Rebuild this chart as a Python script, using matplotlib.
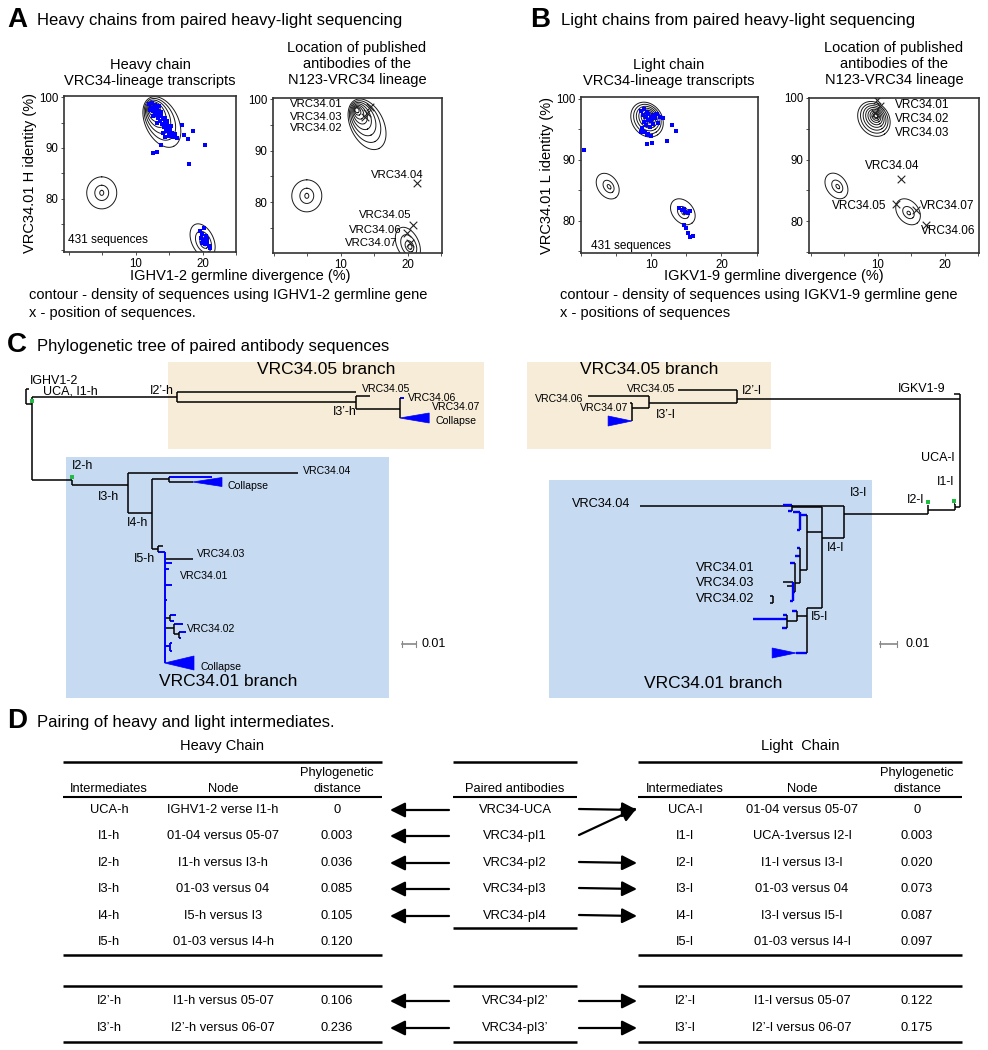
import numpy as np
import matplotlib.pyplot as plt
from matplotlib.patches import Rectangle, Polygon

plt.rcParams['font.family'] = ['Liberation Sans', 'DejaVu Sans']

W, H = 988, 1050

# ---------------- data: panels A / B ----------------
# density contour rings: inner (cx, cy, major px, minor px), outer (cx, cy, major px, minor px), tilt, rings
a_contours = [(12.4, 97.8, 5, 4, 13.9, 95.1, 54, 33, -64, 8),
              (4.9, 81.2, 5, 4, 4.9, 81.2, 32, 30, 90, 3),
              (20.3, 71.3, 5, 4, 20.0, 71.8, 36, 22, -65, 4)]
b_contours = [(9.7, 97.1, 4, 3, 9.4, 96.6, 37, 30, -55, 9),
              (4.0, 85.6, 5, 3, 3.8, 85.7, 28, 20, -55, 3),
              (14.6, 81.3, 4, 3, 14.5, 81.5, 29, 21, -50, 3)]

a_seq_x = [12.0, 12.4, 12.8, 12.3, 12.7, 13.1, 12.5, 12.9, 13.3, 13.0, 13.5, 12.6, 13.8, 13.3,
           14.0, 13.6, 14.3, 13.9, 14.6, 14.2, 14.8, 14.5, 15.1, 14.9, 15.4, 15.0, 15.6, 14.1,
           13.4, 12.1, 13.8, 14.4, 15.2, 14.7, 13.2, 15.8, 16.1, 14.4,
           16.9, 18.5, 17.2, 17.8, 20.3, 13.7, 13.1, 12.5, 17.9,
           19.6, 20.2, 19.9, 20.5, 19.7, 20.1, 20.6, 20.3, 20.9, 19.9, 20.7, 21.1]
a_seq_y = [98.6, 98.9, 98.4, 97.9, 97.6, 97.9, 97.2, 96.9, 97.3, 96.4, 96.7, 96.2, 96.2, 95.8,
           95.6, 95.2, 95.0, 94.7, 94.6, 94.1, 93.9, 93.4, 93.6, 92.9, 93.0, 92.4, 92.2, 93.0,
           98.2, 97.4, 97.0, 95.9, 94.4, 95.3, 95.0, 92.7, 91.9, 92.2,
           94.5, 93.3, 92.5, 91.8, 90.6, 90.6, 89.2, 89.0, 86.9,
           73.8, 74.3, 73.2, 72.8, 72.4, 71.9, 71.5, 71.1, 70.8, 71.4, 72.2, 70.4]

b_seq_x = [8.6, 9.0, 9.4, 8.8, 9.2, 9.6, 9.9, 10.2, 9.5, 9.0, 10.0, 10.5, 10.8, 11.2, 9.3, 9.8,
           8.7, 9.1, 9.6, 9.9, 8.5, 10.3, 11.0,
           11.7, 13.0, 13.5, 12.3, 10.1, 9.4, 9.4, 0.4,
           14.0, 14.4, 14.8, 15.2, 14.6, 15.5, 14.9, 15.2, 16.0, 15.5, 14.7]
b_seq_y = [98.0, 98.3, 97.9, 97.4, 97.1, 97.5, 97.0, 97.3, 96.5, 96.2, 96.3, 96.8, 97.5, 97.0,
           95.7, 95.4, 95.2, 94.6, 94.2, 93.9, 94.6, 95.8, 96.1,
           96.9, 95.7, 94.8, 93.1, 92.8, 92.6, 94.1, 91.6,
           82.2, 81.8, 81.5, 81.3, 82.0, 81.6, 78.9, 78.0, 77.5, 77.4, 79.4]

a_pub_names = ['VRC34.01', 'VRC34.03', 'VRC34.02', 'VRC34.04', 'VRC34.05', 'VRC34.06', 'VRC34.07']
a_pub_x = [14.3, 13.9, 13.6, 21.3, 20.8, 19.8, 20.3]
a_pub_y = [98.5, 97.2, 96.6, 83.7, 75.5, 74.0, 72.1]
b_pub_names = ['VRC34.01', 'VRC34.02', 'VRC34.03', 'VRC34.04', 'VRC34.05', 'VRC34.06', 'VRC34.07']
b_pub_x = [10.3, 9.9, 9.6, 13.4, 12.7, 17.2, 15.7]
b_pub_y = [98.7, 99.6, 97.5, 86.8, 82.8, 79.3, 81.8]

# label placement for the published antibodies (x, y, ha)
a_lab_pos = [(10.3, 99.0, 'right'), (10.3, 96.6, 'right'), (10.3, 94.4, 'right'),
             (22.4, 85.2, 'right'), (20.6, 77.5, 'right'), (19.1, 74.6, 'right'), (18.5, 72.0, 'right')]
b_lab_pos = [(12.5, 98.9, 'left'), (12.5, 96.6, 'left'), (12.5, 94.3, 'left'),
             (12.1, 89.0, 'center'), (11.3, 82.4, 'right'), (16.4, 78.4, 'left'), (16.3, 82.4, 'left')]

# ---------------- data: panel C trees ----------------
# (node, parent, distance from root, row, colour)
heavy_nodes = [
    ('R', None, 0.000, 396, 'k'), ('IGHV1-2', 'R', 0.002, 389, 'k'), ('UCA', 'R', 0.004, 404, 'k'),
    ('I2p', 'UCA', 0.108, 397, 'k'), ('h05', 'I2p', 0.236, 392, 'k'), ('I3p', 'I2p', 0.236, 402, 'k'),
    ('v05', 'I3p', 0.246, 396, 'k'), ('n67', 'I3p', 0.267, 409, 'k'), ('v06', 'n67', 0.270, 398, 'b'),
    ('c67', 'n67', 0.267, 418, 'b'),
    ('I2', 'UCA', 0.033, 480, 'k'), ('I3', 'I2', 0.073, 485, 'k'), ('v04', 'I3', 0.194, 473, 'k'),
    ('I4', 'I3', 0.090, 513, 'k'), ('nc', 'I4', 0.102, 479, 'k'), ('nc1', 'nc', 0.133, 477, 'b'),
    ('nc2', 'nc', 0.119, 482, 'k'),
    ('I5', 'I4', 0.094, 549, 'k'), ('i5a', 'I5', 0.098, 546, 'k'), ('N01', 'I5', 0.099, 552, 'b'),
    ('v03', 'N01', 0.119, 559, 'k'), ('b1', 'N01', 0.104, 563, 'b'), ('b2', 'N01', 0.102, 569, 'b'),
    ('b3', 'N01', 0.104, 585, 'b'), ('b4', 'N01', 0.101, 600, 'b'),
    ('n618', 'N01', 0.103, 618, 'k'), ('b5', 'n618', 0.107, 615, 'b'), ('b6', 'n618', 0.106, 621, 'b'),
    ('n02', 'N01', 0.106, 628, 'k'), ('b7', 'n02', 0.112, 624, 'b'), ('n02b', 'n02', 0.109, 634, 'k'),
    ('b8', 'n02b', 0.114, 632, 'b'), ('b9', 'n02b', 0.111, 638, 'b'),
    ('n645', 'N01', 0.103, 646, 'b'), ('b10', 'n645', 0.104, 643, 'b'), ('b11', 'n645', 0.104, 651, 'b'),
    ('c01', 'N01', 0.099, 663, 'b'),
]
heavy_collapse = [('c67', 0.021, 5), ('nc2', 0.021, 4.5), ('c01', 0.021, 7)]
heavy_green = ['UCA', 'I2']

light_nodes = [
    ('R', None, 0.000, 394, 'k'), ('IGKV', 'R', 0.0035, 394, 'k'), ('I2p', 'R', 0.131, 399, 'k'),
    ('I1', 'R', 0.003, 507, 'k'),
    ('v05', 'I2p', 0.166, 390, 'k'), ('I3p', 'I2p', 0.183, 403, 'k'), ('v06', 'I3p', 0.219, 396, 'k'),
    ('n67', 'I3p', 0.193, 408, 'k'), ('v07', 'n67', 0.194, 403, 'k'), ('c67', 'n67', 0.193, 421, 'b'),
    ('s1', 'I1', 0.0035, 504, 'k'), ('I2', 'I1', 0.019, 510, 'k'), ('s2', 'I2', 0.019, 505, 'k'),
    ('I3', 'I2', 0.068, 514, 'k'), ('v04', 'I3', 0.188, 506, 'k'), ('I4', 'I3', 0.081, 538, 'k'),
    ('a1', 'I4', 0.099, 507, 'k'), ('a1x', 'a1', 0.104, 505, 'b'), ('a1y', 'a1', 0.101, 511, 'b'),
    ('a2', 'I4', 0.090, 532, 'k'), ('a3', 'a2', 0.094, 515, 'b'), ('a3x', 'a3', 0.098, 512, 'b'),
    ('a3y', 'a3', 0.096, 530, 'b'), ('a4', 'a2', 0.094, 570, 'k'), ('a4x', 'a4', 0.096, 548, 'b'),
    ('a4y', 'a4', 0.097, 556, 'b'),
    ('a5', 'a4', 0.097, 583, 'k'), ('a5x', 'a5', 0.100, 563, 'b'), ('a6', 'a5', 0.098, 592, 'b'),
    ('a6x', 'a6', 0.104, 582, 'k'), ('a6y', 'a6', 0.102, 586, 'k'), ('a6z', 'a6', 0.100, 601, 'b'),
    ('I5', 'I4', 0.090, 608, 'k'), ('p1', 'I5', 0.096, 616, 'k'), ('p1x', 'p1', 0.099, 611, 'b'),
    ('p2', 'p1', 0.102, 621, 'k'), ('p2x', 'p2', 0.122, 619, 'b'), ('p2y', 'p2', 0.105, 628, 'b'),
    ('p2z', 'p2', 0.104, 615, 'b'), ('cb', 'I5', 0.0965, 653, 'b'),
    ('q', None, 0.110, 599, 'k'), ('qx', 'q', 0.112, 596, 'k'), ('qy', 'q', 0.112, 603, 'k'),
]
light_collapse = [('c67', 0.014, 5), ('cb', 0.014, 5)]
light_green = ['s1', 's2']

# ---------------- data: panel D table ----------------
heavy_inter = ['UCA-h', 'I1-h', 'I2-h', 'I3-h', 'I4-h', 'I5-h']
heavy_node = ['IGHV1-2 verse I1-h', '01-04 versus 05-07', 'I1-h versus I3-h',
              '01-03 versus 04', 'I5-h versus I3', '01-03 versus I4-h']
heavy_dist = ['0', '0.003', '0.036', '0.085', '0.105', '0.120']
heavy_inter2 = ['I2\u2019-h', 'I3\u2019-h']
heavy_node2 = ['I1-h versus 05-07', 'I2\u2019-h versus 06-07']
heavy_dist2 = ['0.106', '0.236']

paired = ['VRC34-UCA', 'VRC34-pI1', 'VRC34-pI2', 'VRC34-pI3', 'VRC34-pI4']
paired2 = ['VRC34-pI2\u2019', 'VRC34-pI3\u2019']

light_inter = ['UCA-l', 'I1-l', 'I2-l', 'I3-l', 'I4-l', 'I5-l']
light_node = ['01-04 versus 05-07', 'UCA-1versus I2-l', 'I1-l versus I3-l',
              '01-03 versus 04', 'I3-l versus I5-l', '01-03 versus I4-l']
light_dist = ['0', '0.003', '0.020', '0.073', '0.087', '0.097']
light_inter2 = ['I2\u2019-l', 'I3\u2019-l']
light_node2 = ['I1-l versus 05-07', 'I2\u2019-l versus 06-07']
light_dist2 = ['0.122', '0.175']
# which light row each paired antibody's arrow points to
light_target = [0, 0, 2, 3, 4]

BLUE = '#0000ff'
fig = plt.figure(figsize=(W / 100, H / 100), dpi=100)
ov = fig.add_axes([0, 0, 1, 1])
ov.set_xlim(0, W)
ov.set_ylim(H, 0)
ov.axis('off')


def rect(x0, y0, x1, y1):
    return [x0 / W, 1 - y1 / H, (x1 - x0) / W, (y1 - y0) / H]


def draw_rings(ax, clusters):
    # ring sizes are given in screen pixels, so convert through the axes scale
    o = ax.transData.transform((0, 0))
    p = ax.transData.transform((1, 1))
    sx, sy = p[0] - o[0], p[1] - o[1]
    t = np.linspace(0, 2 * np.pi, 120)
    for cx0, cy0, a0, b0, cx1, cy1, a1, b1, ang, n in clusters:
        phi = np.radians(ang)
        for i in range(n):
            f = (i / (n - 1)) ** 1.4
            cx, cy = cx0 + (cx1 - cx0) * f, cy0 + (cy1 - cy0) * f
            a, b = (a0 + (a1 - a0) * f) / 2, (b0 + (b1 - b0) * f) / 2
            u, v = a * np.cos(t), b * np.sin(t)
            ax.plot(cx + (u * np.cos(phi) - v * np.sin(phi)) / sx,
                    cy + (u * np.sin(phi) + v * np.cos(phi)) / sy, color='#1a1a1a', lw=0.7)


def setup(ax, xlim, ylim, ylow):
    ax.set_xlim(*xlim)
    ax.set_ylim(*ylim)
    ax.set_xticks([10, 20])
    ax.set_xticks([0, 5, 15, 25], minor=True)
    ax.set_yticks([80, 90, 100])
    ax.set_yticks([v for v in [70, 75, 85, 95] if v >= ylow], minor=True)
    ax.tick_params(which='both', labelsize=8.3, length=2, width=0.6, pad=2, color='#333')
    for s in ax.spines.values():
        s.set_linewidth(1.2)
        s.set_color('#333')


# ---------------- panel A ----------------
ov.text(7, 20, 'A', fontsize=20, fontweight='bold', va='center')
ov.text(37, 21, 'Heavy chains from paired heavy-light sequencing', fontsize=12, va='center')
ov.text(150, 73, 'Heavy chain\nVRC34-lineage transcripts', fontsize=10.5, ha='center', va='center',
        linespacing=1.15)
ov.text(357, 64, 'Location of published\nantibodies of the\nN123-VRC34 lineage', fontsize=10.5,
        ha='center', va='center', linespacing=1.15)
ov.text(30, 173, 'VRC34.01 H identity (%)', fontsize=10.5, rotation=90, ha='center', va='center')
ov.text(240, 276, 'IGHV1-2 germline divergence (%)', fontsize=10.5, ha='center', va='center')
ov.text(29, 295, 'contour - density of sequences using IGHV1-2 germline gene', fontsize=10.5, va='center')
ov.text(29, 313, 'x - position of sequences.', fontsize=10.5, va='center')

axA1 = fig.add_axes(rect(64, 96, 236, 252))
setup(axA1, (-0.75, 24.9), (69.6, 100.2), 69.6)
draw_rings(axA1, a_contours)
axA1.scatter(a_seq_x, a_seq_y, s=5, marker='s', color=BLUE, lw=0, zorder=3)
axA1.text(0.025, 0.077, '431 sequences', fontsize=8.5, transform=axA1.transAxes, va='center')

axA2 = fig.add_axes(rect(273, 98, 442, 253))
setup(axA2, (-0.15, 25.1), (70.1, 100.2), 70.1)
draw_rings(axA2, a_contours)
axA2.scatter(a_pub_x, a_pub_y, s=30, marker='x', color='#222', lw=0.8, zorder=3)
for name, (lx, ly, ha) in zip(a_pub_names, a_lab_pos):
    axA2.text(lx, ly, name, fontsize=8.2, ha=ha, va='center')

# ---------------- panel B ----------------
ov.text(530, 20, 'B', fontsize=20, fontweight='bold', va='center')
ov.text(561, 21, 'Light chains from paired heavy-light sequencing', fontsize=12, va='center')
ov.text(669, 73, 'Light chain\nVRC34-lineage transcripts', fontsize=10.5, ha='center', va='center',
        linespacing=1.15)
ov.text(894, 64, 'Location of published\nantibodies of the\nN123-VRC34 lineage', fontsize=10.5,
        ha='center', va='center', linespacing=1.15)
ov.text(547, 175, 'VRC34.01 L identity (%)', fontsize=10.5, rotation=90, ha='center', va='center')
ov.text(774, 276, 'IGKV1-9 germline divergence (%)', fontsize=10.5, ha='center', va='center')
ov.text(560, 295, 'contour - density of sequences using IGKV1-9 germline gene', fontsize=10.5, va='center')
ov.text(560, 313, 'x - positions of sequences', fontsize=10.5, va='center')

axB1 = fig.add_axes(rect(581, 97, 758, 253))
setup(axB1, (0.28, 25.2), (74.75, 100.3), 74.75)
draw_rings(axB1, b_contours)
axB1.scatter(b_seq_x, b_seq_y, s=5, marker='s', color=BLUE, lw=0, zorder=3, clip_on=False)
axB1.text(0.056, 0.045, '431 sequences', fontsize=8.5, transform=axB1.transAxes, va='center')

axB2 = fig.add_axes(rect(809, 98, 979, 253))
setup(axB2, (-0.3, 25.1), (74.8, 100.0), 74.8)
draw_rings(axB2, b_contours)
axB2.scatter(b_pub_x, b_pub_y, s=30, marker='x', color='#222', lw=0.8, zorder=3)
for name, (lx, ly, ha) in zip(b_pub_names, b_lab_pos):
    axB2.text(lx, ly, name, fontsize=8.5, ha=ha, va='center')

# ---------------- panel C ----------------
ov.text(7, 345, 'C', fontsize=20, fontweight='bold', va='center')
ov.text(37, 346, 'Phylogenetic tree of paired antibody sequences', fontsize=12, va='center')

TAN = '#f6ecd8'
LBLUE = '#c6daf1'
ov.add_patch(Rectangle((168, 362), 316, 87, fc=TAN, ec='none'))
ov.add_patch(Rectangle((66, 457), 323, 241, fc=LBLUE, ec='none'))
ov.add_patch(Rectangle((527, 362), 244, 87, fc=TAN, ec='none'))
ov.add_patch(Rectangle((549, 480), 323, 218, fc=LBLUE, ec='none'))
ov.text(326, 370, 'VRC34.05 branch', fontsize=12.5, ha='center', va='center')
ov.text(228, 682, 'VRC34.01 branch', fontsize=12.5, ha='center', va='center')
ov.text(649, 369, 'VRC34.05 branch', fontsize=12.5, ha='center', va='center')
ov.text(713, 683, 'VRC34.01 branch', fontsize=12.5, ha='center', va='center')


def draw_tree(nodes, collapse, green, x0, scale, sign, blue_lw):
    pos = {n: (x0 + sign * d * scale, y) for n, p, d, y, c in nodes}
    col = {n: (BLUE if c == 'b' else 'k') for n, p, d, y, c in nodes}
    wid = {n: (blue_lw if c == 'b' else 1.1) for n, p, d, y, c in nodes}
    kids = {}
    for n, p, d, y, c in nodes:
        if p is not None:
            kids.setdefault(p, []).append(n)
            ov.plot([pos[p][0], pos[n][0]], [pos[n][1], pos[n][1]], color=col[n], lw=wid[n],
                    solid_capstyle='butt')
    for p, ch in kids.items():
        ys = [pos[c][1] for c in ch] + [pos[p][1]]
        ov.plot([pos[p][0], pos[p][0]], [min(ys), max(ys)], color=col[p], lw=wid[p],
                solid_capstyle='butt')
    for n, length, hh in collapse:
        x, y = pos[n]
        xe = x + sign * length * scale
        ov.add_patch(Polygon([(x, y), (xe, y - hh), (xe, y + hh)], closed=True, fc=BLUE, ec=BLUE,
                             lw=0.5))
    for n in green:
        ov.plot(pos[n][0], pos[n][1] - 3, 's', ms=2.2, color='#22bb44', mew=0)


draw_tree(heavy_nodes, heavy_collapse, heavy_green, 26, 1400, 1, 1.4)
draw_tree(light_nodes, light_collapse, light_green, 960, 1700, -1, 1.7)

# scale bars
for xa, xb, xt in [(402, 416, 421), (880, 897, 905)]:
    ov.plot([xa, xb], [644, 644], color='#888', lw=1.2)
    ov.plot([xa, xa], [641, 647], color='#888', lw=0.8)
    ov.plot([xb, xb], [641, 647], color='#888', lw=0.8)
    ov.text(xt, 644, '0.01', fontsize=9, va='center')

heavy_labels = [('IGHV1-2', 30, 381, 9), ('UCA, I1-h', 43, 392, 9), ('I2\u2019-h', 150, 391, 9),
                ('VRC34.05', 362, 389, 7.6), ('VRC34.06', 408, 398, 7.6), ('VRC34.07', 432, 407, 7.6),
                ('Collapse', 435, 421, 7.6), ('I3\u2019-h', 333, 412, 9), ('I2-h', 72, 466, 9),
                ('VRC34.04', 303, 471, 7.6), ('Collapse', 227, 486, 7.6), ('I3-h', 98, 497, 9),
                ('I4-h', 127, 523, 9), ('I5-h', 134, 559, 9), ('VRC34.03', 197, 554, 7.6),
                ('VRC34.01', 180, 576, 7.6), ('VRC34.02', 187, 629, 7.6), ('Collapse', 200, 667, 7.6)]
for t, x, y, fs in heavy_labels:
    ov.text(x, y, t, fontsize=fs, va='center')

light_labels = [('IGKV1-9', 898, 389, 9, 'left'), ('I2\u2019-l', 742, 391, 9, 'left'),
                ('VRC34.05', 675, 389, 7.6, 'right'), ('VRC34.06', 583, 399, 7.6, 'right'),
                ('VRC34.07', 628, 408, 7.6, 'right'), ('I3\u2019-l', 656, 415, 9, 'left'),
                ('UCA-l', 921, 458, 9, 'left'), ('I1-l', 937, 482, 9, 'left'), ('I2-l', 907, 500, 9, 'left'),
                ('I3-l', 850, 493, 9, 'left'), ('VRC34.04', 572, 504, 9.2, 'left'),
                ('I4-l', 827, 548, 9, 'left'), ('VRC34.01', 754, 568, 9.2, 'right'),
                ('VRC34.03', 754, 583, 9.2, 'right'), ('VRC34.02', 754, 599, 9.2, 'right'),
                ('I5-l', 811, 617, 9, 'left')]
for t, x, y, fs, ha in light_labels:
    ov.text(x, y, t, fontsize=fs, va='center', ha=ha)

# ---------------- panel D ----------------
ov.text(7, 721, 'D', fontsize=20, fontweight='bold', va='center')
ov.text(37, 722, 'Pairing of heavy and light intermediates.', fontsize=12, va='center')
ov.text(222, 746, 'Heavy Chain', fontsize=10.5, ha='center', va='center')
ov.text(800, 746, 'Light  Chain', fontsize=10.5, ha='center', va='center')

rows = [810, 836, 863, 889, 916, 942]
rows2 = [1001, 1028]
TFS = 9.3


def hline(x0, x1, y, lw=1.8):
    ov.plot([x0, x1], [y, y], color='k', lw=lw, solid_capstyle='butt')


for x0, x1, yb in [(63, 382, 955), (453, 577, 928), (638, 962, 955)]:
    hline(x0, x1, 762)
    hline(x0, x1, 797, 1.5)
    hline(x0, x1, yb)
    hline(x0, x1, 986)
    hline(x0, x1, 1042)

for xc, xn, xd in [(109, 223, 337), (685, 802, 917)]:
    ov.text(xc, 789, 'Intermediates', fontsize=TFS, ha='center', va='center')
    ov.text(xn, 789, 'Node', fontsize=TFS, ha='center', va='center')
    ov.text(xd, 773, 'Phylogenetic', fontsize=TFS, ha='center', va='center')
    ov.text(xd, 789, 'distance', fontsize=TFS, ha='center', va='center')
ov.text(515, 789, 'Paired antibodies', fontsize=TFS, ha='center', va='center')

for cols, xs, ys in [((heavy_inter, heavy_node, heavy_dist), (109, 223, 337), rows),
                     ((heavy_inter2, heavy_node2, heavy_dist2), (109, 223, 337), rows2),
                     ((light_inter, light_node, light_dist), (685, 802, 917), rows),
                     ((light_inter2, light_node2, light_dist2), (685, 802, 917), rows2)]:
    for col, x in zip(cols, xs):
        for txt, y in zip(col, ys):
            ov.text(x, y, txt, fontsize=TFS, ha='center', va='center')

for txt, y in zip(paired + paired2, rows[:5] + rows2):
    ov.text(515, y, txt, fontsize=TFS, ha='center', va='center')

ap = dict(arrowstyle='-|>,head_length=0.9,head_width=0.45', lw=1.6, color='k',
          shrinkA=0, shrinkB=0)
for y in rows[:5] + rows2:
    ov.annotate('', xy=(390, y), xytext=(449, y), arrowprops=ap)
for i, tgt in enumerate(light_target):
    ov.annotate('', xy=(637, rows[tgt] - (2 if tgt != i else 0)), xytext=(579, rows[i] - 1),
                arrowprops=ap)
for y in rows2:
    ov.annotate('', xy=(637, y), xytext=(579, y), arrowprops=ap)

fig.savefig('out.png', dpi=100)
